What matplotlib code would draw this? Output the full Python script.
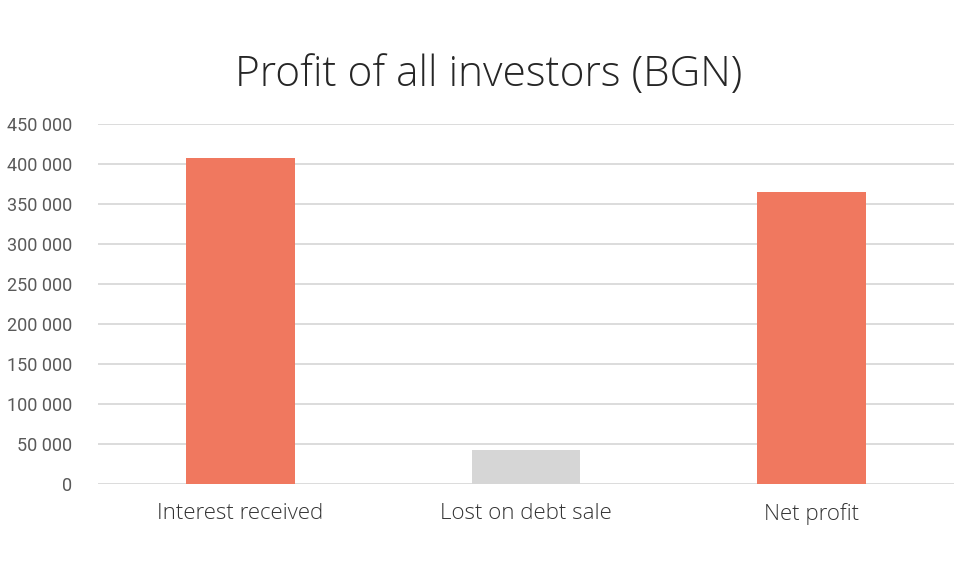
import matplotlib

matplotlib.use("Agg")
import matplotlib.pyplot as plt
from matplotlib.ticker import FuncFormatter

# values (BGN)
categories = ["Interest received", "Lost on debt sale", "Net profit"]
values = [407000, 42500, 364500]
bar_colors = ["#F0785F", "#D6D6D6", "#F0785F"]
y_ticks = list(range(0, 450001, 50000))

fig = plt.figure(figsize=(9.77, 5.68), dpi=100)
ax = fig.add_axes([0.0998, 0.1479, 0.877, 0.6343])

ax.bar(range(len(categories)), values, width=0.38, color=bar_colors, zorder=2)

ax.set_xlim(-0.5, len(categories) - 0.5)
ax.set_ylim(0, 450000)
ax.set_yticks(y_ticks)
ax.yaxis.set_major_formatter(FuncFormatter(lambda v, _: f"{int(v):,}".replace(",", " ")))
ax.grid(axis="y", color="#D9D9D9", linewidth=1.3, zorder=0)
ax.set_axisbelow(True)
for side in ("top", "right", "left", "bottom"):
    ax.spines[side].set_visible(False)

ax.set_xticks(range(len(categories)))
ax.set_xticklabels(categories, fontsize=16, color="#333333", family="Open Sans", fontweight="light")
ax.tick_params(axis="x", length=0, pad=14)
ax.tick_params(axis="y", length=0, pad=18, labelsize=13, labelcolor="#595959")
for lbl in ax.get_yticklabels():
    lbl.set_family("Roboto")

fig.text(0.5, 0.868, "Profit of all investors (BGN)", ha="center", va="center",
         fontsize=30.5, color="#262626", family="Open Sans", fontweight="light")

fig.savefig("out.png", dpi=100, facecolor="white")
